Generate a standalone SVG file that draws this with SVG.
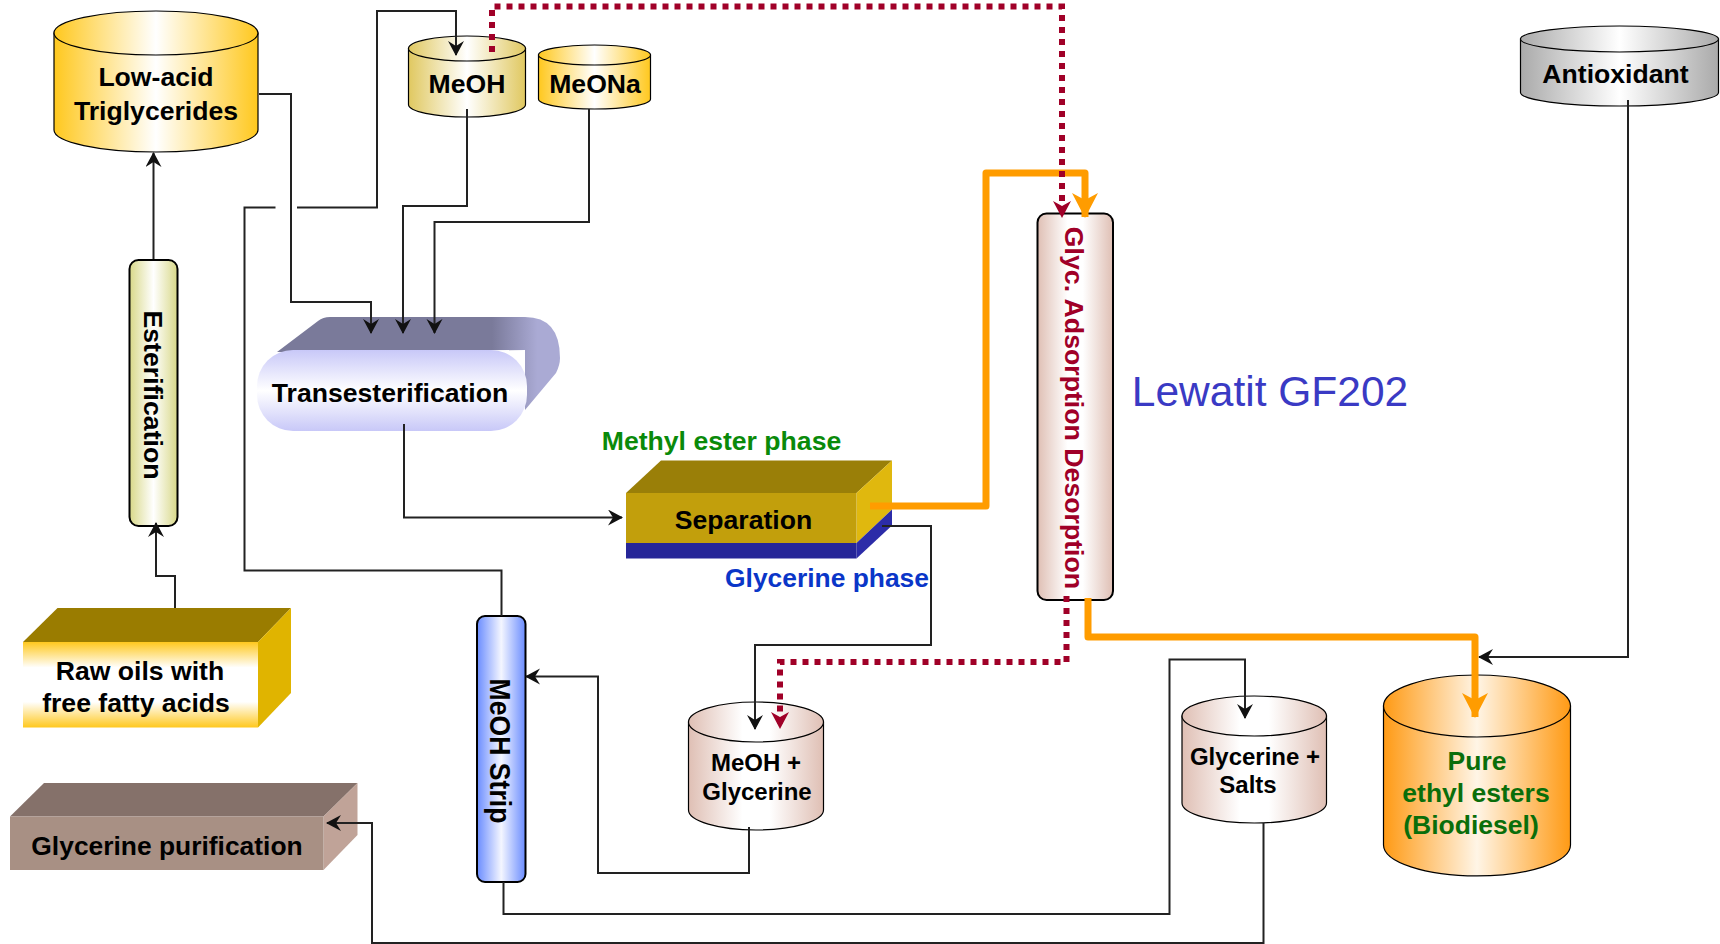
<svg xmlns="http://www.w3.org/2000/svg" width="1720" height="944" viewBox="0 0 1720 944">
<style>
text{font-family:"Liberation Sans",Arial,sans-serif;font-weight:700;fill:#000;text-anchor:middle}
.c{stroke:#000;stroke-width:1.2}
.b{stroke:#000;stroke-width:2}
.l{fill:none;stroke:#222;stroke-width:2}
.or{fill:none;stroke:#ff9c00;stroke-width:7;stroke-linejoin:round}
.rd{fill:none;stroke:#a00028;stroke-width:6;stroke-dasharray:6 6}
</style>
<defs>
<linearGradient id="gY"><stop offset="0" stop-color="#ffc81e"/><stop offset=".5" stop-color="#fff"/><stop offset="1" stop-color="#ffc81e"/></linearGradient>
<linearGradient id="gM"><stop offset="0" stop-color="#e0c860"/><stop offset=".5" stop-color="#fff"/><stop offset="1" stop-color="#e0c860"/></linearGradient>
<linearGradient id="gP"><stop offset="0" stop-color="#dfbfb4"/><stop offset=".4" stop-color="#fff"/><stop offset=".6" stop-color="#fff"/><stop offset="1" stop-color="#dfbfb4"/></linearGradient>
<linearGradient id="gO"><stop offset="0" stop-color="#ff9a14"/><stop offset=".5" stop-color="#fff5e6"/><stop offset="1" stop-color="#ff9a14"/></linearGradient>
<linearGradient id="gG"><stop offset="0" stop-color="#aaa"/><stop offset=".5" stop-color="#fff"/><stop offset="1" stop-color="#aaa"/></linearGradient>
<linearGradient id="gE"><stop offset="0" stop-color="#d8d888"/><stop offset=".5" stop-color="#fff"/><stop offset="1" stop-color="#d8d888"/></linearGradient>
<linearGradient id="gB"><stop offset="0" stop-color="#6a8cff"/><stop offset=".5" stop-color="#f4f6ff"/><stop offset="1" stop-color="#6a8cff"/></linearGradient>
<linearGradient id="gV" x2="0" y2="1"><stop offset="0" stop-color="#c8c8f8"/><stop offset=".5" stop-color="#fff"/><stop offset="1" stop-color="#c8c8f8"/></linearGradient>
<linearGradient id="gR" x2="0" y2="1"><stop offset="0" stop-color="#ffc81e"/><stop offset=".3" stop-color="#fff"/><stop offset=".7" stop-color="#fff"/><stop offset="1" stop-color="#ffc81e"/></linearGradient>
<linearGradient id="gS"><stop offset="0" stop-color="#7a7a9a"/><stop offset=".76" stop-color="#7a7a9a"/><stop offset=".92" stop-color="#aaaad4"/><stop offset="1" stop-color="#aaaad4"/></linearGradient>
<marker id="a" markerUnits="userSpaceOnUse" markerWidth="18" markerHeight="18" refX="14" refY="8" orient="auto"><path d="M0,0 L15,8 L0,16 L5,8 Z" fill="#111"/></marker>
<marker id="ao" markerUnits="userSpaceOnUse" markerWidth="30" markerHeight="30" refX="25" refY="14" orient="auto"><path d="M1,1 L26,14 L1,27 L8,14 Z" fill="#ff9c00"/></marker>
<marker id="ar" markerUnits="userSpaceOnUse" markerWidth="20" markerHeight="20" refX="16" refY="9" orient="auto"><path d="M0,0 L17,9 L0,18 L5,9 Z" fill="#a00028"/></marker>
</defs>

<g id="low-acid">
<path class="c" fill="url(#gY)" d="M54,33 V130 A102,22 0 0 0 258,130 V33 Z"/>
<ellipse class="c" fill="url(#gY)" cx="156" cy="33" rx="102" ry="22"/>
<text x="156" y="86" font-size="26.6">Low-acid</text>
<text x="156" y="120" font-size="26.6">Triglycerides</text>
</g>
<g id="meoh">
<path class="c" fill="url(#gM)" d="M408.500,48.500 V104.500 A58.500,12.500 0 0 0 525.500,104.500 V48.500 Z"/>
<ellipse class="c" fill="url(#gM)" cx="467" cy="48.500" rx="58.500" ry="12.500"/>
<text x="467" y="93" font-size="26.600">MeOH</text>
</g>
<g id="meona">
<path class="c" fill="url(#gY)" d="M538.500,55 V99 A56,10 0 0 0 650.500,99 V55 Z"/>
<ellipse class="c" fill="url(#gY)" cx="594.500" cy="55" rx="56" ry="10"/>
<text x="595" y="93" font-size="26.600">MeONa</text>
</g>
<g id="antioxidant">
<path class="c" fill="url(#gG)" d="M1520.500,39 V92.500 A99,13.500 0 0 0 1718.500,92.500 V39 Z"/>
<ellipse class="c" fill="url(#gG)" cx="1619.500" cy="39" rx="99" ry="13"/>
<text x="1615.500" y="83" font-size="26.600">Antioxidant</text>
</g>
<g id="esterification">
<rect class="b" fill="url(#gE)" x="129.500" y="260" width="48" height="266" rx="9"/>
<text transform="translate(143.500,395) rotate(90)" font-size="26.700">Esterification</text>
</g>
<g id="transesterification">
<path fill="url(#gS)" d="M277,352 L318,321 Q323,317 330,317 H525 Q560,317 560,358 Q560,365 556,373 L525,410 V350 Z"/>
<rect fill="url(#gV)" x="257" y="350" width="270" height="81" rx="36"/>
<text x="390" y="402" font-size="26.600">Transesterification</text>
</g>
<g id="separation">
<path fill="#9a7f08" d="M626,493 L661,460.500 H892 L856.500,493 Z"/>
<path fill="#e0b80e" d="M856.500,493 L892,460.500 V509.500 L856.500,543 Z"/>
<path fill="#2c2ca8" d="M856.500,543 L892,509.500 V525.500 L856.500,558.500 Z"/>
<rect fill="#c29f0c" x="626" y="493" width="230.500" height="50"/>
<rect fill="#262698" x="626" y="543" width="230.500" height="15.500"/>
<text x="743.500" y="529" font-size="26.600">Separation</text>
</g>
<g id="raw-oils">
<path fill="#9a7c00" d="M23,642 L57.500,608 H291 L258,642 Z"/>
<path fill="#e0b400" d="M258,642 L291,608 V693 L258,727.500 Z"/>
<rect fill="url(#gR)" x="23" y="642" width="235" height="85.500"/>
<text x="140" y="680" font-size="26.600">Raw oils with</text>
<text x="136" y="712" font-size="26.600">free fatty acids</text>
</g>
<g id="glycerine-purification">
<path fill="#85716a" d="M10,816.500 L44,783 H357.500 L323.500,816.500 Z"/>
<path fill="#c0a398" d="M323.500,816.500 L357.500,783 V835 L323.500,870 Z"/>
<rect fill="#a89084" x="10" y="816.500" width="313.500" height="53.500"/>
<text x="167" y="855" font-size="26.400">Glycerine purification</text>
</g>
<g id="meoh-strip">
<rect class="b" fill="url(#gB)" x="477" y="616" width="48.500" height="266" rx="8"/>
<text transform="translate(490,751) rotate(90) scale(1,1.12)" font-size="26.600">MeOH Strip</text>
</g>
<g id="meoh-glycerine">
<path class="c" fill="url(#gP)" d="M688.500,722 V810 A67.500,20 0 0 0 823.500,810 V722 Z"/>
<ellipse class="c" fill="url(#gP)" cx="756" cy="722" rx="67.500" ry="20"/>
<text x="756" y="771" font-size="24">MeOH +</text>
<text x="757" y="800" font-size="24">Glycerine</text>
</g>
<g id="glyc-column">
<rect class="b" fill="url(#gP)" x="1037.500" y="213.500" width="75.500" height="386.500" rx="9"/>
<text transform="translate(1064.500,408) rotate(90)" font-size="26.700" style="fill:#a00028">Glyc. Adsorption Desorption</text>
</g>
<g id="glycerine-salts">
<path class="c" fill="url(#gP)" d="M1182,716 V803 A72.250,20 0 0 0 1326.500,803 V716 Z"/>
<ellipse class="c" fill="url(#gP)" cx="1254.250" cy="716" rx="72.250" ry="20"/>
<text x="1255" y="765" font-size="24">Glycerine +</text>
<text x="1248" y="793" font-size="24">Salts</text>
</g>
<g id="pure-esters">
<path class="c" fill="url(#gO)" d="M1383.500,706 V845 A93.500,31 0 0 0 1570.500,845 V706 Z"/>
<ellipse class="c" fill="url(#gO)" cx="1477" cy="706" rx="93.500" ry="31"/>
<g style="font-size:26.500px">
<text x="1477" y="770" style="fill:#0a6e0a">Pure</text>
<text x="1476" y="802" style="fill:#0a6e0a">ethyl esters</text>
<text x="1471" y="834" style="fill:#0a6e0a">(Biodiesel)</text>
</g>
</g>
<g id="labels">
<text x="721.500" y="450" font-size="26.600" style="fill:#0a8a0a">Methyl ester phase</text>
<text x="827" y="587" font-size="26.400" style="fill:#0a36c8">Glycerine phase</text>
<text x="1270" y="406" font-size="42.500" style="fill:#3a3ac4;font-weight:400">Lewatit GF202</text>
</g>

<g id="connectors">
<path class="l" marker-end="url(#a)" d="M153.500,259 V153"/>
<path class="l" marker-end="url(#a)" d="M175,608 V576 H156 V523"/>
<path class="l" marker-end="url(#a)" d="M259,94 H291 V302 H371 V333"/>
<path class="l" marker-end="url(#a)" d="M467,109 V206 H403 V333"/>
<path class="l" marker-end="url(#a)" d="M589,109 V222 H434.500 V333"/>
<path class="l" d="M501.500,616 V570.500 H244.500 V207.500 H275.500"/>
<path class="l" marker-end="url(#a)" d="M297,207.500 H377 V11 H456 V55"/>
<path class="l" marker-end="url(#a)" d="M404,424 V517.500 H622"/>
<path class="l" marker-end="url(#a)" d="M882,526 H931 V645 H755 V729"/>
<path class="l" marker-end="url(#a)" d="M749,827 V873 H598 V676.500 H526"/>
<path class="l" marker-end="url(#a)" d="M503.500,882 V914 H1169.500 V659.500 H1245 V718"/>
<path class="l" marker-end="url(#a)" d="M1263.500,823 V943 H372 V823 H327"/>
<path class="l" marker-end="url(#a)" d="M1628,100 V657 H1479"/>
<path class="or" marker-end="url(#ao)" d="M870,506 H986 V173 H1085 V217"/>
<path class="or" marker-end="url(#ao)" d="M1088,598 V637 H1475 V717"/>
<path class="rd" marker-end="url(#ar)" d="M492,52 V6.500 H1062 V217"/>
<path class="rd" marker-end="url(#ar)" d="M1066.500,596 V662 H780 V728"/>
</g>
</svg>
